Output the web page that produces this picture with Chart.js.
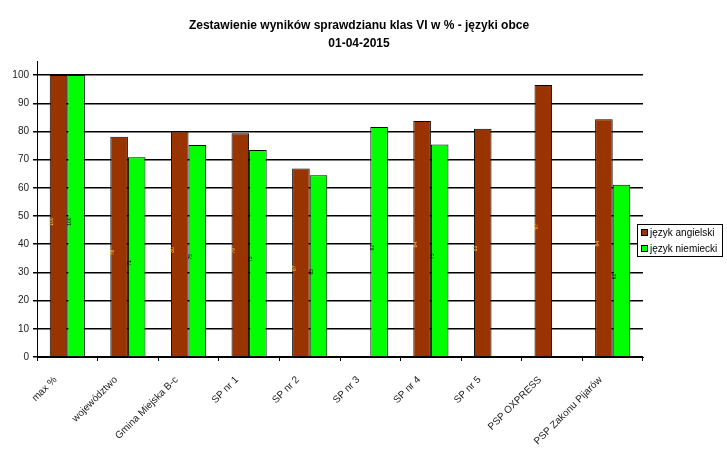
<!DOCTYPE html>
<html>
<head>
<meta charset="utf-8">
<script src="https://cdn.jsdelivr.net/npm/chart.js@4/dist/chart.umd.min.js"></script>
<style>
  html, body { margin: 0; padding: 0; background: #fff; }
</style>
</head>
<body>
<canvas id="resultsChart" width="727" height="452"></canvas>
<script>
const categories = [
  "max %",
  "województwo",
  "Gmina Miejska B-c",
  "SP nr 1",
  "SP nr 2",
  "SP nr 3",
  "SP nr 4",
  "SP nr 5",
  "PSP OXPRESS",
  "PSP Zakonu Pijarów",
];
const seriesNames = ["język angielski", "język niemiecki"];
const englishScores = [100, 78.1, 80.0, 79.4, 66.9, null, 83.7, 81.0, 96.5, 84.3];
const germanScores = [100, 70.9, 75.2, 73.4, 64.5, 81.6, 75.4, null, null, 61.1];
const yTicks = [0, 10, 20, 30, 40, 50, 60, 70, 80, 90, 100];

Chart.defaults.font.family = 'Arial, "Liberation Sans", sans-serif';
Chart.defaults.color = "#222";

// tiny rotated value labels on the left edge of each bar
const barValues = {
  id: "barValues",
  afterDatasetsDraw(chart) {
    const ctx = chart.ctx;
    ctx.save();
    ctx.font = '5px Arial, "Liberation Sans", sans-serif';
    ctx.textAlign = "center";
    ctx.textBaseline = "middle";
    chart.data.datasets.forEach((ds, i) => {
      const meta = chart.getDatasetMeta(i);
      meta.data.forEach((bar, j) => {
        const v = ds.data[j];
        if (v === null) return;
        const x = bar.x - bar.width / 2 + 2;
        const y = (bar.y + bar.base) / 2 + 6;
        ctx.save();
        ctx.translate(x, y);
        ctx.rotate(-Math.PI / 2);
        ctx.fillStyle = i === 0 ? "#ffcc33" : "#000";
        ctx.fillText(String(Math.round(v)), 0, 0);
        ctx.restore();
      });
    });
    ctx.restore();
  },
};

// boxed legend like the old spreadsheet one
const boxLegend = {
  id: "boxLegend",
  afterDraw(chart) {
    const ctx = chart.ctx;
    const x = 637, y = 224, w = 85, h = 32;
    ctx.save();
    ctx.fillStyle = "#fff";
    ctx.fillRect(x, y, w, h);
    ctx.strokeStyle = "#000";
    ctx.lineWidth = 1;
    ctx.strokeRect(x + 0.5, y + 0.5, w, h);
    ctx.font = '10px Arial, "Liberation Sans", sans-serif';
    ctx.textBaseline = "middle";
    chart.data.datasets.forEach((ds, i) => {
      const rowY = y + 5 + i * 16;
      ctx.fillStyle = ds.backgroundColor;
      ctx.fillRect(x + 4, rowY, 7, 7);
      ctx.strokeRect(x + 4.5, rowY + 0.5, 6, 6);
      ctx.fillStyle = "#000";
      ctx.fillText(ds.label, x + 13, rowY + 4);
    });
    ctx.restore();
  },
};

new Chart(document.getElementById("resultsChart"), {
  type: "bar",
  data: {
    labels: categories,
    datasets: [
      {
        label: seriesNames[0],
        data: englishScores,
        backgroundColor: "#993300",
        borderColor: "#000",
        borderWidth: 1,
        categoryPercentage: 0.58,
        barPercentage: 1,
      },
      {
        label: seriesNames[1],
        data: germanScores,
        backgroundColor: "#00ff00",
        borderColor: "#000",
        borderWidth: 1,
        categoryPercentage: 0.58,
        barPercentage: 1,
      },
    ],
  },
  options: {
    responsive: false,
    animation: false,
    layout: { padding: { left: 0, right: 9, top: 0, bottom: 0 } },
    plugins: {
      legend: { display: false },
      tooltip: { enabled: false },
      title: {
        display: true,
        text: ["Zestawienie wyników sprawdzianu klas VI w % - języki obce", "01-04-2015"],
        color: "#000",
        font: { size: 12, weight: "bold", lineHeight: 1.5 },
        padding: { top: 17, bottom: 8 },
      },
    },
    scales: {
      x: {
        grid: {
          offset: true,
          drawOnChartArea: false,
          drawTicks: true,
          tickLength: 4,
          color: "#000",
        },
        border: { color: "#000", width: 1 },
        ticks: {
          autoSkip: false,
          minRotation: 45,
          maxRotation: 45,
          padding: 13,
          labelOffset: -12,
          font: { size: 10 },
        },
        afterFit: (s) => { s.height = 95; },
      },
      y: {
        min: 0,
        max: 105,
        afterBuildTicks: (s) => { s.ticks = yTicks.map((v) => ({ value: v })); },
        grid: { color: "#000", lineWidth: 1.5, tickLength: 4 },
        border: { color: "#000", width: 1 },
        ticks: { padding: 4, font: { size: 10 } },
        afterFit: (s) => { s.width = 37; },
      },
      spacer: {
        position: "right",
        display: true,
        grid: { display: false },
        border: { display: false },
        ticks: { display: false },
        afterFit: (s) => { s.width = 75; },
      },
    },
  },
  plugins: [barValues, boxLegend],
});
</script>
</body>
</html>
